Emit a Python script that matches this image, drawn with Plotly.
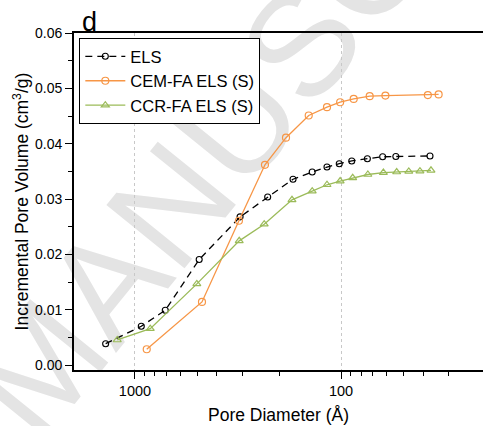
import plotly.graph_objects as go

# ---- data ----
els_x = [1388, 932, 713, 488, 309, 227, 171, 138, 117, 102, 88.7, 74.5, 62.8, 54.2, 37.0]
els_y = [0.0039, 0.00705, 0.00994, 0.0191, 0.0268, 0.0304, 0.0336, 0.0349, 0.0358, 0.0364,
         0.0369, 0.0373, 0.03765, 0.0377, 0.0378]

cem_x = [877, 473, 313, 234, 185, 143.5, 117, 101, 86.8, 72.6, 60.9, 37.9, 33.6]
cem_y = [0.0029, 0.01144, 0.0261, 0.0362, 0.0411, 0.0451, 0.0466, 0.0475, 0.0481, 0.0486,
         0.0487, 0.0488, 0.0489]

ccr_x = [1219, 843, 501, 312, 236, 173, 138, 117, 101, 87.8, 74.1, 62.3, 53.7, 46.9, 41.4, 36.6]
ccr_y = [0.00457, 0.00661, 0.0147, 0.02247, 0.02548, 0.02988, 0.03145, 0.0326, 0.03326,
         0.03385, 0.03445, 0.0348, 0.0349, 0.035, 0.03506, 0.0352]

series_names = ["ELS", "CEM-FA ELS (S)", "CCR-FA ELS (S)"]
x_tickvals = [1000, 100]
x_ticktext = ["1000", "100"]
y_tickvals = [0.00, 0.01, 0.02, 0.03, 0.04, 0.05, 0.06]
y_ticktext = ["0.00", "0.01", "0.02", "0.03", "0.04", "0.05", "0.06"]

FONT = "Liberation Sans, Arial, sans-serif"

fig = go.Figure()
fig.add_trace(go.Scatter(
    x=els_x, y=els_y, name=series_names[0], mode="lines+markers",
    line=dict(color="black", width=1.3, dash="7px,5px"),
    marker=dict(symbol="circle-open", size=6, color="black", line=dict(width=1.1)),
))
fig.add_trace(go.Scatter(
    x=cem_x, y=cem_y, name=series_names[1], mode="lines+markers",
    line=dict(color="#F79646", width=1.3),
    marker=dict(symbol="circle-open", size=7, color="#F79646", line=dict(width=1.2)),
))
fig.add_trace(go.Scatter(
    x=ccr_x, y=ccr_y, name=series_names[2], mode="lines+markers",
    line=dict(color="#9BBB59", width=1.3),
    marker=dict(symbol="triangle-up-open", size=7, color="#9BBB59", line=dict(width=1.2)),
))

wm_cx, wm_cy = 0.535, 1.003
fig.update_layout(
    width=483, height=426,
    margin=dict(l=74, r=0, t=33, b=56),
    paper_bgcolor="white", plot_bgcolor="white",
    font=dict(family=FONT, color="black", size=14),
    showlegend=True,
    legend=dict(
        x=0.013, y=0.985, xanchor="left", yanchor="top",
        bordercolor="black", borderwidth=1, bgcolor="white",
        font=dict(size=16.5, family=FONT), tracegroupgap=0,
        itemwidth=40,
    ),
    shapes=[dict(
        type="rect", xref="paper", yref="paper",
        x0=wm_cx - 0.8, x1=wm_cx + 0.8, y0=wm_cy - 0.75, y1=wm_cy + 0.75,
        line=dict(width=0), fillcolor="rgba(0,0,0,0)", layer="below",
        label=dict(text="MANUSCRIPT", textangle=-51,
                   font=dict(size=146, color="#e4e4e4", family=FONT),
                   textposition="middle center"),
    )],
    annotations=[dict(
        text="d", xref="paper", yref="paper", x=0.015, y=1.0,
        xanchor="left", yanchor="bottom", showarrow=False,
        font=dict(size=27, family=FONT, color="black"), yshift=-6,
    )],
)

fig.update_xaxes(
    type="log", range=[3.296, 1.311],
    tickvals=x_tickvals, ticktext=x_ticktext,
    ticks="outside", ticklen=7, tickwidth=1.2, tickcolor="black",
    showline=True, linecolor="black", linewidth=1.8, mirror=True,
    showgrid=True, gridcolor="#c8c8c8", griddash="dot", gridwidth=1,
    zeroline=False,
    tickfont=dict(size=14.5),
    minor=dict(ticks="outside", ticklen=4, tickwidth=1.2, tickcolor="black",
               tickvals=[900, 800, 700, 600, 500, 400, 300, 200, 90, 80, 70, 60, 50, 40, 30],
               showgrid=False),
    title=dict(text="Pore Diameter (Å)", font=dict(size=17.5), standoff=10),
)
fig.update_yaxes(
    range=[-0.00085, 0.06],
    tickvals=y_tickvals, ticktext=y_ticktext,
    ticks="outside", ticklen=7, tickwidth=1.2, tickcolor="black",
    showline=True, linecolor="black", linewidth=1.8, mirror=False,
    showgrid=False, zeroline=False,
    tickfont=dict(size=14),
    minor=dict(ticks="outside", ticklen=4, tickwidth=1.2, tickcolor="black",
               dtick=0.005, showgrid=False),
    title=dict(text="Incremental Pore Volume (cm<sup>3</sup>/g)", font=dict(size=17.5), standoff=2),
)

fig.write_html("out.html")
